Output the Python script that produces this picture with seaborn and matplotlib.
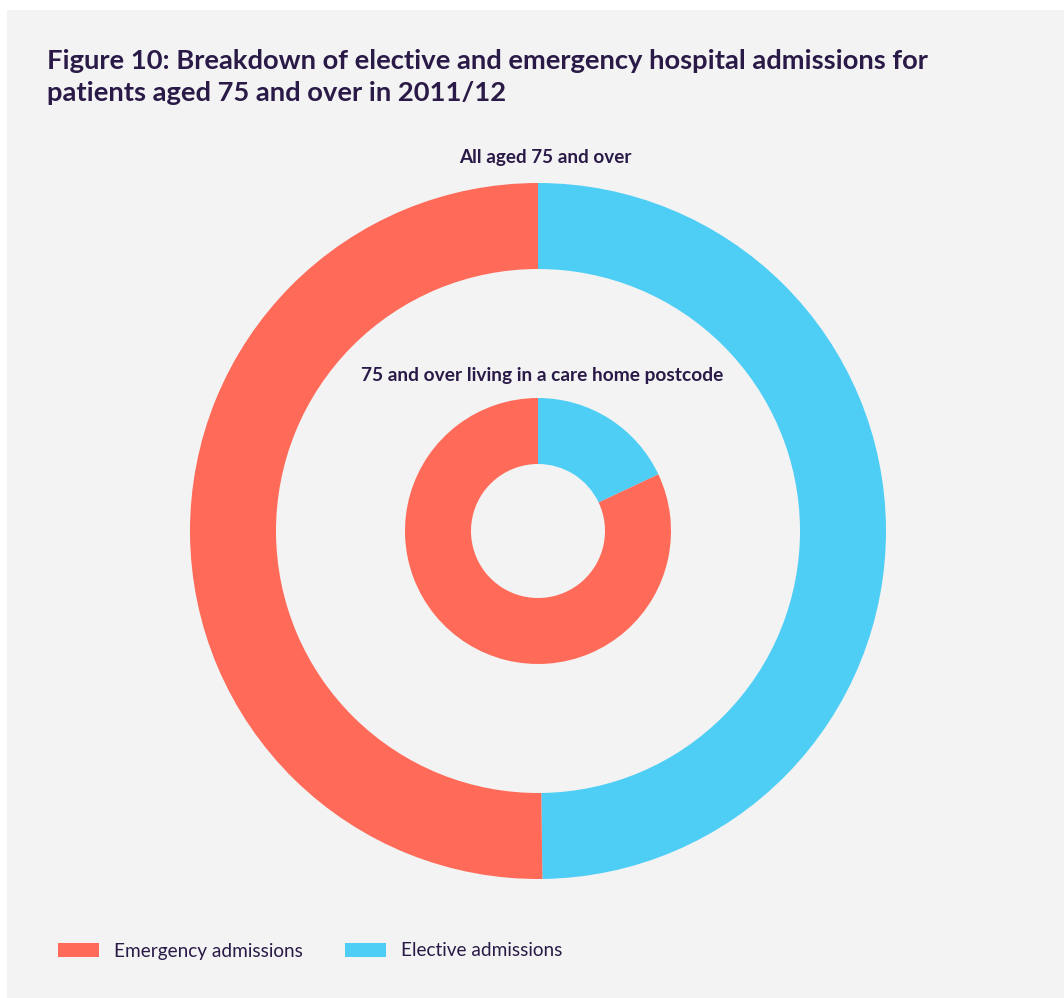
import matplotlib
matplotlib.use('Agg')
import matplotlib.pyplot as plt
from matplotlib.patches import Rectangle, Patch
import seaborn as sns

# data (share of admissions, %)
categories = ['Elective admissions', 'Emergency admissions']
all_aged_75 = [49.8, 50.2]
care_home_75 = [18.0, 82.0]
legend_order = ['Emergency admissions', 'Elective admissions']

sns.set_style('white')
plt.rcParams['font.family'] = ['Lato', 'DejaVu Sans']

colors = dict(zip(categories, sns.color_palette(['#4FCEF5', '#FF6B58'])))
text_col = '#2A1A47'
bg = '#F3F3F3'

W, H = 1064, 998
fig = plt.figure(figsize=(W / 100, H / 100), dpi=100, facecolor='white')
fig.patches.append(Rectangle((7 / W, 0), 1 - 7 / W, 1 - 10 / H,
                             transform=fig.transFigure, facecolor=bg,
                             edgecolor='none', zorder=-5))

# square axes centred on the donuts
cx, cy, r = 538, 531, 348
ax = fig.add_axes([(cx - r) / W, (H - cy - r) / H, 2 * r / W, 2 * r / H])
ax.set_facecolor('none')
ax.set_zorder(2)

pal = [colors[c] for c in categories]
ax.pie(all_aged_75, colors=pal, radius=1.0, startangle=90, counterclock=False,
       wedgeprops=dict(width=86 / r, edgecolor='none', linewidth=0))
ax.pie(care_home_75, colors=pal, radius=133 / r, startangle=90, counterclock=False,
       wedgeprops=dict(width=66 / r, edgecolor='none', linewidth=0))
ax.set_xlim(-1, 1)
ax.set_ylim(-1, 1)
ax.axis('off')

fig.text(47 / W, 1 - 49 / H,
         'Figure 10: Breakdown of elective and emergency hospital admissions for\n'
         'patients aged 75 and over in 2011/12',
         ha='left', va='top', fontsize=19.7, fontweight='bold', color=text_col,
         linespacing=1.42, zorder=3)

fig.text(545 / W, 1 - 158 / H, 'All aged 75 and over', ha='center', va='center',
         fontsize=13.6, fontweight='bold', color=text_col, zorder=3)
fig.text(542 / W, 1 - 376 / H, '75 and over living in a care home postcode',
         ha='center', va='center', fontsize=13.8, fontweight='bold', color=text_col,
         zorder=3)

handles = [Patch(facecolor=colors[c], edgecolor='none', label=c) for c in legend_order]
fig.legend(handles=handles, loc='center left', bbox_to_anchor=(58 / W, 1 - 951 / H),
           ncol=2, frameon=False, fontsize=13.7, labelcolor=text_col,
           handlelength=2.15, handleheight=0.8, handletextpad=0.8,
           columnspacing=2.2, borderaxespad=0, borderpad=0)

fig.savefig('out.png', dpi=100, facecolor='white')
